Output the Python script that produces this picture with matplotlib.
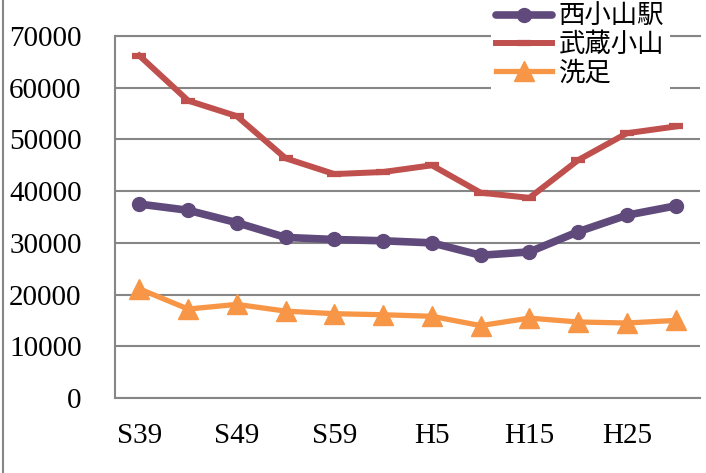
import matplotlib.pyplot as plt
from matplotlib.lines import Line2D

plt.rcParams['font.family'] = ['Liberation Serif', 'Noto Sans CJK JP']

years = ['S39', 'S44', 'S49', 'S54', 'S59', 'H1', 'H5', 'H10', 'H15', 'H20', 'H25', 'H30']
nishikoyama = [37500, 36300, 33900, 31050, 30650, 30400, 30000, 27600, 28250, 32150, 35350, 37150]
musashikoyama = [66200, 57500, 54500, 46350, 43300, 43700, 45000, 39700, 38700, 46000, 51200, 52500]
senzoku = [21100, 17200, 18100, 16800, 16300, 16100, 15800, 14000, 15450, 14700, 14500, 15000]

fig = plt.figure(figsize=(7.06, 4.73), dpi=100)
ax = fig.add_axes([115 / 706, 1 - 398 / 473, 585 / 706, 362 / 473])

x = range(len(years))
ax.plot(x, nishikoyama, color='#604A7B', lw=5.5, marker='o', ms=10,
        solid_capstyle='round', label='西小山駅', zorder=3)
ax.plot(x, musashikoyama, color='#C0504D', lw=4.3, marker='_', ms=10, mew=4.5,
        label='武蔵小山', zorder=3)
ax.plot(x, senzoku, color='#F79646', lw=3.8, marker='^', ms=15,
        label='洗足', zorder=3)

ax.set_xlim(-0.5, len(years) - 0.5)
ax.set_ylim(0, 70000)
ax.set_yticks(range(0, 70001, 10000))
ax.set_xticks(list(x)[::2])
ax.set_xticklabels(years[::2])
ax.tick_params(length=0, labelsize=21)
ax.tick_params(axis='y', pad=24)
ax.tick_params(axis='x', pad=18)

ax.grid(axis='y', color='#868686', lw=1.5)
ax.set_axisbelow(True)
for side in ['left', 'bottom', 'top']:
    ax.spines[side].set_color('#868686')
    ax.spines[side].set_linewidth(1.5)
ax.spines['right'].set_visible(False)

leg = ax.legend(loc='upper left', bbox_to_anchor=(491 / 706, 1.005),
                bbox_transform=fig.transFigure,
                frameon=True, fancybox=False, edgecolor='none', framealpha=1,
                fontsize=19, handlelength=2.1, handletextpad=0.27,
                labelspacing=0.05, borderpad=0.2, borderaxespad=0)
for t in leg.get_texts():
    t.set_family(['Noto Sans CJK JP'])

# outer frame edge on the left
fig.add_artist(Line2D([3 / 706, 3 / 706], [0, 1], color='#868686', lw=1.5))

fig.savefig('out.png', dpi=100)
